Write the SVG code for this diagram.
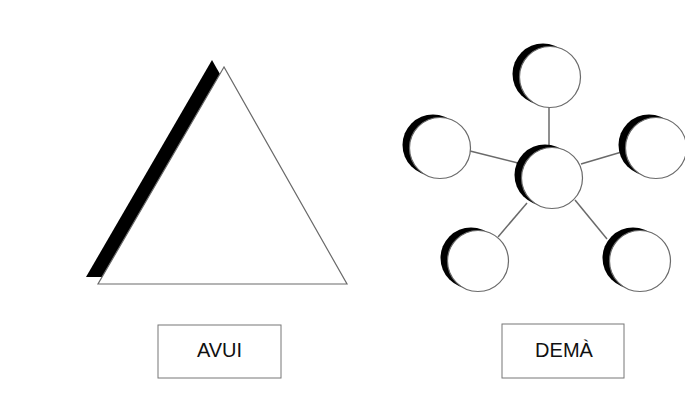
<svg xmlns="http://www.w3.org/2000/svg" width="685" height="400" viewBox="0 0 685 400">
<style>
.shape{fill:#fff;stroke:#6a6a6a;stroke-width:1.2}
.shadow{fill:#000}
.box{fill:#fff;stroke:#777;stroke-width:1}
.lbl{font-family:"Liberation Sans",Arial,sans-serif;font-size:20px;fill:#111;text-anchor:middle}
.conn{stroke:#6a6a6a;stroke-width:1.5;fill:none}
</style>
<defs>
<g id="node"><circle class="shadow" cx="-7" cy="-3" r="30.5"/><circle class="shape" cx="0" cy="0" r="30.5"/></g>
</defs>
<rect width="685" height="400" fill="#fff"/>
<g id="triangle">
<polygon class="shadow" points="212,60 86,277 335,277"/>
<polygon class="shape" points="224,67 98,284 347,284"/>
</g>
<g id="connectors">
<line class="conn" x1="549" y1="107" x2="549" y2="147"/>
<line class="conn" x1="470" y1="151" x2="518" y2="163"/>
<line class="conn" x1="581" y1="164" x2="625" y2="151"/>
<line class="conn" x1="527" y1="203" x2="498" y2="237"/>
<line class="conn" x1="575" y1="200" x2="607" y2="239"/>
</g>
<g id="n-center"><use href="#node" x="552" y="178"/></g>
<g id="n-top"><use href="#node" x="550" y="77"/></g>
<g id="n-left"><use href="#node" x="440" y="148"/></g>
<g id="n-right"><use href="#node" x="656" y="148"/></g>
<g id="n-bl"><use href="#node" x="478" y="261"/></g>
<g id="n-br"><use href="#node" x="640" y="261"/></g>
<g id="avui"><rect class="box" x="158" y="325" width="123" height="53"/><text class="lbl" x="219.5" y="357">AVUI</text></g>
<g id="dema"><rect class="box" x="502" y="324" width="122" height="54"/><text class="lbl" x="564" y="357">DEMÀ</text></g>
</svg>
